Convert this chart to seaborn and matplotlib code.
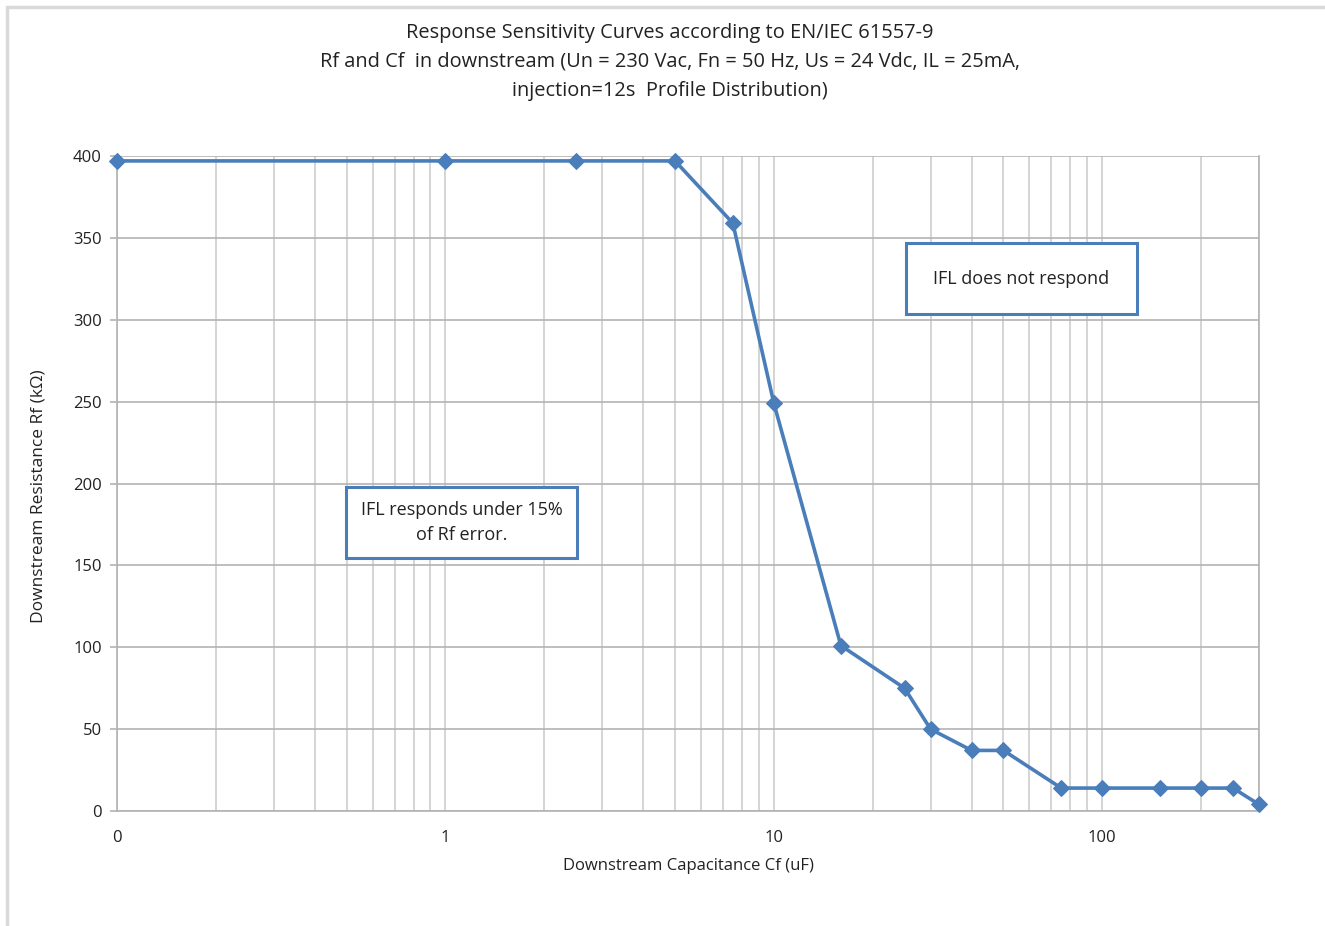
import matplotlib
matplotlib.use("Agg")
import matplotlib.pyplot as plt
import matplotlib.ticker as mticker
from matplotlib.patches import Rectangle
import pandas as pd
import seaborn as sns

# 数据：从图上读出来的点
cap_uF = [0.1, 1, 2.5, 5, 7.5, 10, 16, 25, 30, 40, 50, 75, 100, 150, 200, 250, 300]
rf_kohm = [397, 397, 397, 397, 359, 249, 101, 75, 50, 37, 37, 14, 14, 14, 14, 14, 4]
x_ticks = [0.1, 1, 10, 100]
x_tick_labels = ["0", "1", "10", "100"]
y_ticks = [0, 50, 100, 150, 200, 250, 300, 350, 400]

title = ("Response Sensitivity Curves according to EN/IEC 61557-9\n"
         "Rf and Cf  in downstream (Un = 230 Vac, Fn = 50 Hz, Us = 24 Vdc, IL = 25mA,\n"
         "injection=12s  Profile Distribution)")
note_right = "IFL does not respond"
note_left = "IFL responds under 15%\nof Rf error."

df = pd.DataFrame({"Cf": cap_uF, "Rf": rf_kohm})

sns.set_style("white")
plt.rcParams["font.family"] = ["Open Sans", "DejaVu Sans"]

BLUE = "#4a7ebb"
MAJ = "#b3b3b3"
MIN = "#cdcdcd"
TXT = "#222222"

fig = plt.figure(figsize=(13.25, 9.26), dpi=100)
ax = fig.add_axes([117 / 1325, 1 - 811 / 926, (1259 - 117) / 1325, (811 - 156) / 926])

sns.lineplot(data=df, x="Cf", y="Rf", ax=ax, color=BLUE, lw=2.6,
             marker="D", markersize=8.5, markeredgecolor=BLUE, clip_on=False, zorder=5)

ax.set_xscale("log")
ax.set_xlim(0.1, 300)
ax.set_ylim(0, 400)
ax.set_xticks(x_ticks)
ax.set_xticklabels(x_tick_labels)
ax.xaxis.set_minor_locator(mticker.LogLocator(base=10, subs=range(2, 10), numticks=20))
ax.xaxis.set_minor_formatter(mticker.NullFormatter())
ax.set_yticks(y_ticks)

ax.grid(True, which="major", axis="y", color=MAJ, lw=1.2)
ax.grid(True, which="both", axis="x", color=MIN, lw=1.2)
ax.set_axisbelow(True)
for s in ax.spines.values():
    s.set_color(MAJ)
    s.set_linewidth(1.2)
ax.spines["top"].set_visible(False)

ax.tick_params(axis="y", which="major", length=5, width=1.2, color=MAJ,
               left=True, labelsize=12, pad=6, labelcolor=TXT)
ax.tick_params(axis="x", which="both", length=0, labelsize=12, pad=14, labelcolor=TXT)

ax.set_xlabel("Downstream Capacitance Cf (uF)", fontsize=12, color=TXT, labelpad=8)
ax.set_ylabel("Downstream Resistance Rf (k\u03a9)", fontsize=12.5, color=TXT)
ax.yaxis.set_label_coords(-0.0613, 0.48)

fig.text(670 / 1325, 1 - 62 / 926, title, ha="center", va="center", fontsize=14.4,
         color=TXT, linespacing=1.58)

# 两个说明框
for (x0, x1, y0, y1), txt in [((906, 1137, 243, 314), note_right),
                              ((346, 577, 487, 558), note_left)]:
    ax0 = (x0 - 117) / 1142
    ax1 = (x1 - 117) / 1142
    ay0 = (811 - y1) / 655
    ay1 = (811 - y0) / 655
    ax.add_patch(Rectangle((ax0, ay0), ax1 - ax0, ay1 - ay0, transform=ax.transAxes,
                           facecolor="white", edgecolor=BLUE, lw=2.2, zorder=6))
    ax.text((ax0 + ax1) / 2, (ay0 + ay1) / 2, txt, transform=ax.transAxes,
            ha="center", va="center", fontsize=13, color=TXT,
            linespacing=1.45, zorder=7)

# 图表外框（左、上）
fig.add_artist(Rectangle((7 / 1325, -0.1), 1.2, 1 - 7 / 926 + 0.1,
                         transform=fig.transFigure, fill=False,
                         edgecolor="#d9d9d9", lw=2.5))

fig.savefig("out.png", dpi=100)
